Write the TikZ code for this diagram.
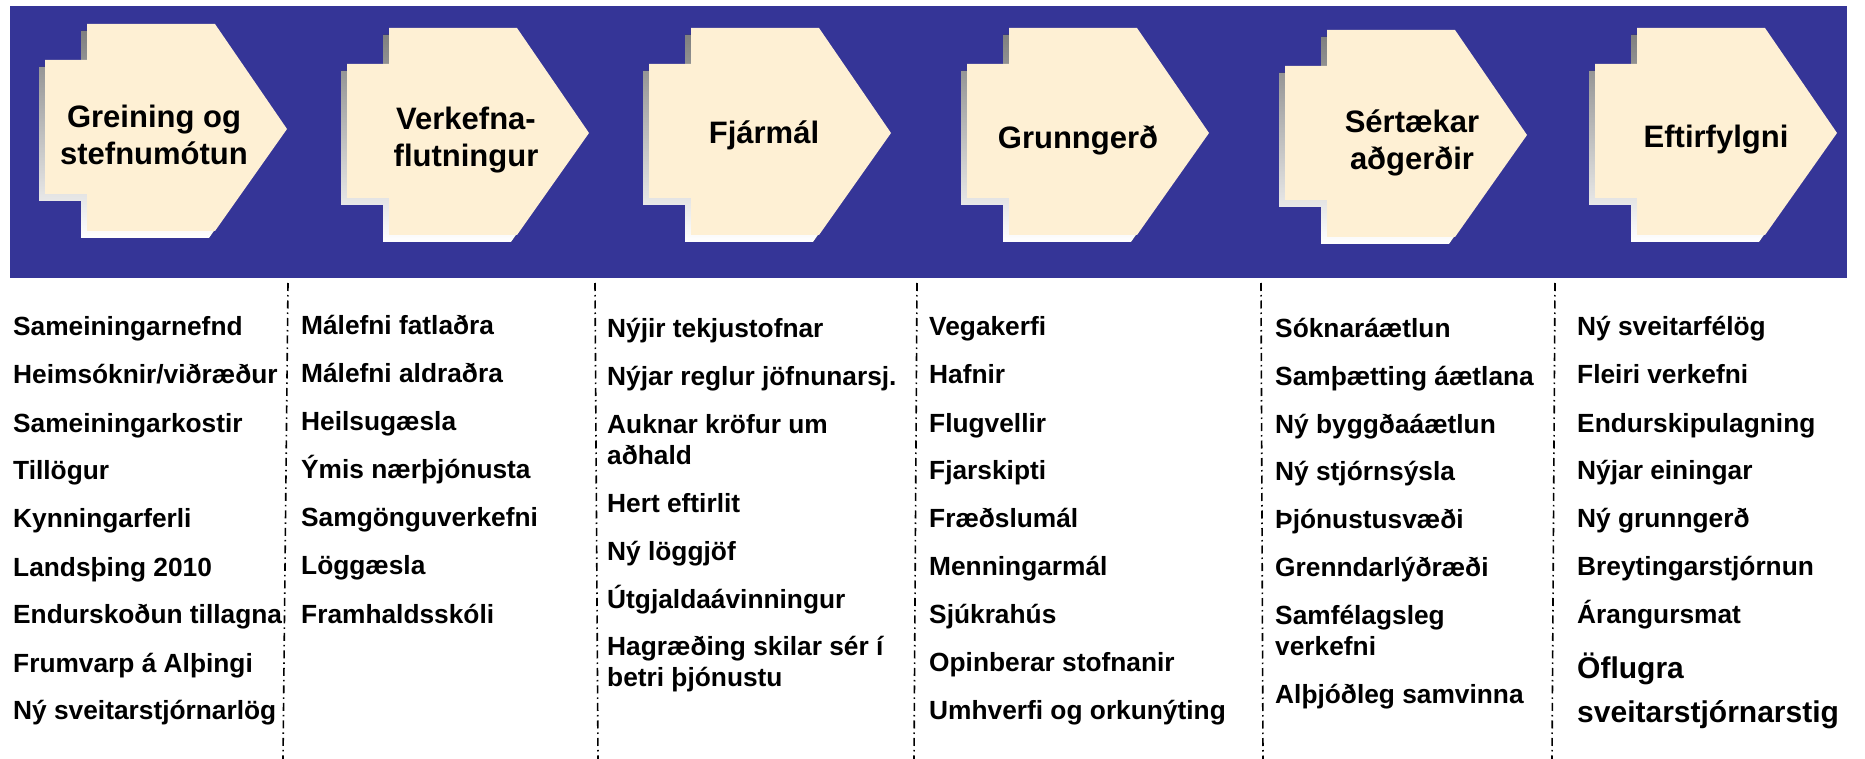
\documentclass[tikz,border=0pt]{standalone}
\usepackage{fontspec}
\setmainfont{Liberation Sans}
\definecolor{band}{HTML}{353597}
\definecolor{cream}{HTML}{FEF0D4}
\definecolor{shade}{HTML}{8F8F8F}
\newcommand\phasebox[2]{%
  \begin{scope}[shift={(#1,#2)}]
    \fill[shade,shift={(-6,7)}] (42,28) -- (170,28) -- (242,133) -- (170,235) -- (42,235) -- (42,198) -- (0,198) -- (0,64) -- (42,64) -- cycle;
    \fill[cream] (42,28) -- (170,28) -- (242,133) -- (170,235) -- (42,235) -- (42,198) -- (0,198) -- (0,64) -- (42,64) -- cycle;
  \end{scope}}
\tikzset{
  title/.style={anchor=base, inner sep=0pt, align=center, font=\fontsize{31}{37}\selectfont\bfseries},
  item/.style={anchor=base west, inner sep=0pt, align=left, font=\fontsize{26.3}{31}\selectfont\bfseries},
  bigitem/.style={anchor=base west, inner sep=0pt, align=left, font=\fontsize{30}{44}\selectfont\bfseries},
  divider/.style={line width=1.6pt, dash pattern=on 8pt off 4pt on 1.5pt off 4pt}
}
\begin{document}
\begin{tikzpicture}[x=1pt,y=-1pt]
\useasboundingbox (0,0) rectangle (1865,759);
\fill[band] (10,6) rectangle (1847,278);
\phasebox{45}{-4}
\phasebox{347}{0}
\phasebox{649}{0}
\phasebox{967}{0}
\phasebox{1285}{2}
\phasebox{1595}{0}
% titles (multi-line nodes: base = last line baseline)
\node[title] (t1) at (154,165) {Greining og\\stefnumótun};
\node[title] (t2) at (466,167) {Verkefna-\\flutningur};
\node[title] (t3) at (764,144) {Fjármál};
\node[title] (t4) at (1078,149) {Grunngerð};
\node[title] (t5) at (1412,170) {Sértækar\\aðgerðir};
\node[title] (t6) at (1716,148) {Eftirfylgni};
% dividers
\coordinate (d1t) at (288,283); \coordinate (d1b) at (283,759);
\coordinate (d2t) at (595,283); \coordinate (d2b) at (598,759);
\coordinate (d3t) at (917,283); \coordinate (d3b) at (914,759);
\coordinate (d4t) at (1261,283); \coordinate (d4b) at (1263,759);
\coordinate (d5t) at (1555,283); \coordinate (d5b) at (1552,759);
\draw[divider] (d1t) -- (d1b);
\draw[divider] (d2t) -- (d2b);
\draw[divider] (d3t) -- (d3b);
\draw[divider] (d4t) -- (d4b);
\draw[divider] (d5t) -- (d5b);
% column 1
\node[item] (a1) at (13,335) {Sameiningarnefnd};
\node[item] (a2) at (13,383) {Heimsóknir/viðræður};
\node[item] (a3) at (13,432) {Sameiningarkostir};
\node[item] (a4) at (13,479) {Tillögur};
\node[item] (a5) at (13,527) {Kynningarferli};
\node[item] (a6) at (13,576) {Landsþing 2010};
\node[item] (a7) at (13,623) {Endurskoðun tillagna};
\node[item] (a8) at (13,672) {Frumvarp á Alþingi};
\node[item] (a9) at (13,719) {Ný sveitarstjórnarlög};
% column 2
\node[item] (b1) at (301,334) {Málefni fatlaðra};
\node[item] (b2) at (301,382) {Málefni aldraðra};
\node[item] (b3) at (301,430) {Heilsugæsla};
\node[item] (b4) at (301,478) {Ýmis nærþjónusta};
\node[item] (b5) at (301,526) {Samgönguverkefni};
\node[item] (b6) at (301,574) {Löggæsla};
\node[item] (b7) at (301,623) {Framhaldsskóli};
% column 3
\node[item] (c1) at (607,337) {Nýjir tekjustofnar};
\node[item] (c2) at (607,385) {Nýjar reglur jöfnunarsj.};
\node[item] (c3) at (607,464) {Auknar kröfur um\\aðhald};
\node[item] (c4) at (607,512) {Hert eftirlit};
\node[item] (c5) at (607,560) {Ný löggjöf};
\node[item] (c6) at (607,608) {Útgjaldaávinningur};
\node[item] (c7) at (607,686) {Hagræðing skilar sér í\\betri þjónustu};
% column 4
\node[item] (e1) at (929,335) {Vegakerfi};
\node[item] (e2) at (929,383) {Hafnir};
\node[item] (e3) at (929,432) {Flugvellir};
\node[item] (e4) at (929,479) {Fjarskipti};
\node[item] (e5) at (929,527) {Fræðslumál};
\node[item] (e6) at (929,575) {Menningarmál};
\node[item] (e7) at (929,623) {Sjúkrahús};
\node[item] (e8) at (929,671) {Opinberar stofnanir};
\node[item] (e9) at (929,719) {Umhverfi og orkunýting};
% column 5
\node[item] (f1) at (1275,337) {Sóknaráætlun};
\node[item] (f2) at (1275,385) {Samþætting áætlana};
\node[item] (f3) at (1275,433) {Ný byggðaáætlun};
\node[item] (f4) at (1275,480) {Ný stjórnsýsla};
\node[item] (f5) at (1275,528) {Þjónustusvæði};
\node[item] (f6) at (1275,576) {Grenndarlýðræði};
\node[item] (f7) at (1275,655) {Samfélagsleg\\verkefni};
\node[item] (f8) at (1275,703) {Alþjóðleg samvinna};
% column 6
\node[item] (g1) at (1577,335) {Ný sveitarfélög};
\node[item] (g2) at (1577,383) {Fleiri verkefni};
\node[item] (g3) at (1577,432) {Endurskipulagning};
\node[item] (g4) at (1577,479) {Nýjar einingar};
\node[item] (g5) at (1577,527) {Ný grunngerð};
\node[item] (g6) at (1577,575) {Breytingarstjórnun};
\node[item] (g7) at (1577,623) {Árangursmat};
\node[bigitem] (g8) at (1577,722) {Öflugra\\sveitarstjórnarstig};
\end{tikzpicture}
\end{document}
